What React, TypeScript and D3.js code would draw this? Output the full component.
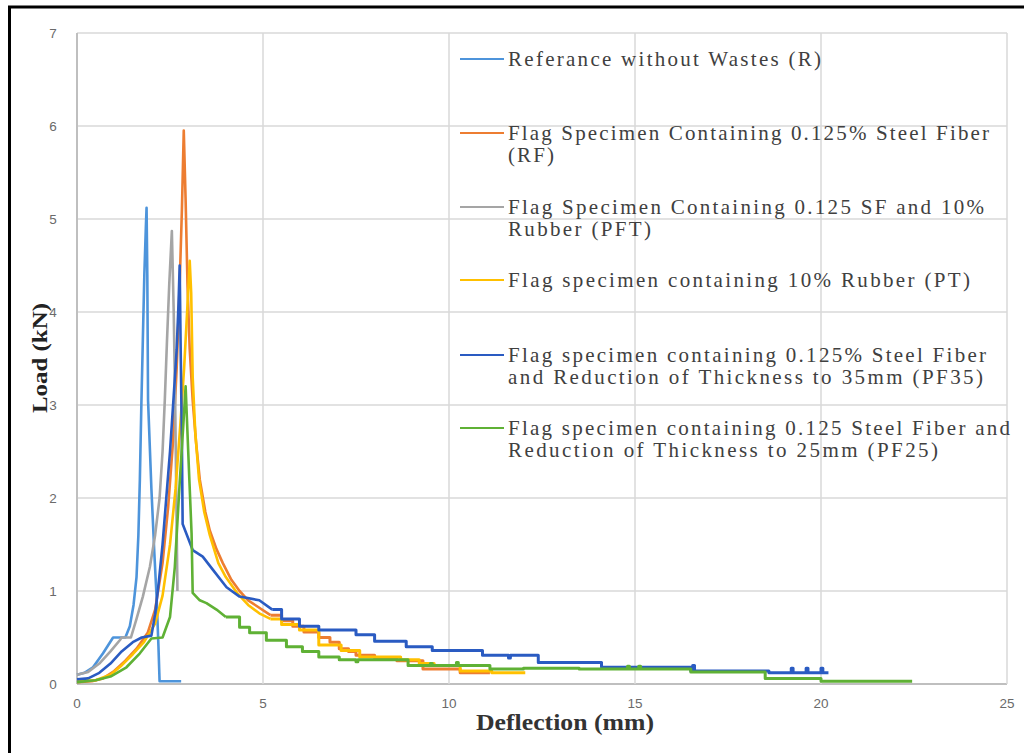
import * as d3 from "d3";

type Pt = [number, number];

const xTicks = [0, 5, 10, 15, 20, 25];
const yTicks = [0, 1, 2, 3, 4, 5, 6, 7];

// Referance without Wastes (R)
const rRise: Pt[] = [
  [0, 0.1], [0.2, 0.12], [0.43, 0.18], [0.7, 0.33], [0.97, 0.5], [1.3, 0.5],
  [1.42, 0.62], [1.52, 0.85], [1.6, 1.15], [1.65, 1.6], [1.69, 2.2], [1.73, 3.0],
  [1.77, 3.7], [1.81, 4.4], [1.85, 4.9], [1.87, 5.12], [1.89, 4.4], [1.91, 3.05],
  [2.0, 2.1], [2.08, 1.4], [2.14, 0.93], [2.19, 0.4], [2.22, 0.03], [2.8, 0.03],
];
const rTail: Pt[] = [];

// Flag Specimen Containing 0.125% Steel Fiber (RF)
const rfRise: Pt[] = [
  [0, 0.02], [0.4, 0.03], [0.7, 0.06], [1.0, 0.14], [1.3, 0.25], [1.6, 0.38],
  [1.9, 0.55], [2.1, 0.8], [2.3, 1.3], [2.45, 1.9], [2.58, 2.6], [2.68, 3.4],
  [2.76, 4.3], [2.82, 5.1], [2.87, 5.95], [2.92, 5.2], [2.97, 4.3], [3.03, 3.6],
  [3.11, 3.05], [3.2, 2.6], [3.3, 2.2], [3.45, 1.85], [3.57, 1.65], [3.75, 1.45],
  [3.92, 1.3], [4.15, 1.12], [4.37, 1.0], [4.6, 0.9], [4.9, 0.82], [5.2, 0.74],
];
const rfTail: Pt[] = [
  [5.2, 0.74], [5.5, 0.68], [5.8, 0.62], [6.1, 0.56], [6.5, 0.5], [6.8, 0.45],
  [7.05, 0.38], [7.3, 0.35], [7.5, 0.31], [8.0, 0.28], [8.6, 0.25], [9.3, 0.16],
  [10.3, 0.12], [11.1, 0.12],
];

// Flag Specimen Containing 0.125 SF and 10% Rubber (PFT)
const pftRise: Pt[] = [
  [0, 0.1], [0.3, 0.13], [0.6, 0.22], [0.9, 0.35], [1.15, 0.47], [1.2, 0.5],
  [1.45, 0.5], [1.6, 0.7], [1.77, 0.94], [1.96, 1.26], [2.1, 1.6], [2.22, 2.0],
  [2.3, 2.5], [2.36, 3.05], [2.42, 3.7], [2.48, 4.3], [2.55, 4.87], [2.6, 4.0],
  [2.64, 3.0], [2.67, 2.0], [2.7, 1.0],
];
const pftTail: Pt[] = [];

// Flag specimen containing 10% Rubber (PT)
const ptRise: Pt[] = [
  [0, 0.03], [0.5, 0.04], [0.9, 0.1], [1.2, 0.2], [1.5, 0.32], [1.8, 0.45],
  [2.1, 0.65], [2.3, 0.95], [2.5, 1.5], [2.65, 2.1], [2.78, 2.8], [2.88, 3.4],
  [2.96, 4.0], [3.03, 4.55], [3.07, 4.2], [3.11, 3.3], [3.18, 2.7], [3.28, 2.2],
  [3.42, 1.85], [3.57, 1.6], [3.8, 1.3], [4.0, 1.15], [4.3, 0.98], [4.6, 0.85],
  [4.9, 0.76], [5.2, 0.7],
];
const ptTail: Pt[] = [
  [5.2, 0.7], [5.5, 0.64], [5.98, 0.58], [6.5, 0.42], [7.1, 0.36], [7.6, 0.29],
  [8.7, 0.26], [9.2, 0.22], [9.6, 0.2], [10.3, 0.14], [11.15, 0.12], [12.05, 0.12],
];

// Flag specimen containing 0.125% Steel Fiber and Reduction of Thickness to 35mm (PF35)
const pf35Rise: Pt[] = [
  [0, 0.05], [0.3, 0.06], [0.6, 0.12], [0.9, 0.22], [1.2, 0.35], [1.5, 0.45],
  [1.74, 0.5], [2.0, 0.52], [2.1, 0.75], [2.2, 1.1], [2.3, 1.5], [2.4, 2.0],
  [2.5, 2.5], [2.6, 3.1], [2.68, 3.6], [2.73, 4.1], [2.76, 4.5], [2.79, 3.5],
  [2.82, 2.6], [2.84, 1.72], [3.11, 1.44], [3.38, 1.37], [3.65, 1.23],
  [4.02, 1.04], [4.37, 0.94], [4.9, 0.9], [5.25, 0.8],
];
const pf35Tail: Pt[] = [
  [5.25, 0.8], [5.5, 0.7], [5.98, 0.62], [6.5, 0.58], [7.5, 0.53], [8.0, 0.46],
  [8.85, 0.4], [9.55, 0.36], [10.9, 0.31], [11.6, 0.28], [11.65, 0.31],
  [12.4, 0.23], [14.1, 0.18], [16.5, 0.14], [16.55, 0.2], [16.6, 0.14],
  [18.6, 0.12], [19.2, 0.17], [19.25, 0.12], [19.6, 0.17], [19.65, 0.12],
  [20.0, 0.17], [20.05, 0.12], [20.2, 0.12],
];

// Flag specimen containing 0.125 Steel Fiber and Reduction of Thickness to 25mm (PF25)
const pf25Rise: Pt[] = [
  [0, 0.02], [0.5, 0.04], [0.9, 0.08], [1.33, 0.18], [1.69, 0.33], [2.0, 0.49],
  [2.3, 0.5], [2.5, 0.72], [2.63, 1.26], [2.76, 2.16], [2.86, 2.8], [2.92, 3.2],
  [2.95, 2.9], [3.02, 2.2], [3.08, 1.62], [3.11, 0.98], [3.3, 0.9], [3.48, 0.87],
  [3.75, 0.8], [4.0, 0.72],
];
const pf25Tail: Pt[] = [
  [4.0, 0.72], [4.37, 0.61], [4.64, 0.55], [5.09, 0.47], [5.63, 0.4],
  [6.06, 0.35], [6.5, 0.29], [7.05, 0.26], [7.5, 0.24], [7.55, 0.26],
  [8.9, 0.2], [9.5, 0.22], [9.55, 0.2], [10.2, 0.23], [10.25, 0.2],
  [11.1, 0.16], [12.0, 0.17], [13.5, 0.16], [14.8, 0.19], [14.85, 0.16],
  [15.1, 0.19], [15.15, 0.16], [16.5, 0.13], [18.5, 0.06], [20.0, 0.03],
  [22.45, 0.03],
];

const legendLines: string[][] = [
  ["Referance without Wastes (R)"],
  ["Flag Specimen Containing 0.125% Steel Fiber", "(RF)"],
  ["Flag Specimen Containing 0.125 SF and 10%", "Rubber (PFT)"],
  ["Flag specimen containing 10% Rubber (PT)"],
  ["Flag specimen containing 0.125% Steel Fiber", "and Reduction of Thickness to 35mm (PF35)"],
  ["Flag specimen containing 0.125 Steel Fiber and", "Reduction of Thickness to 25mm (PF25)"],
];

const colors = ["#4d94db", "#ed7d31", "#a5a5a5", "#ffc000", "#2a5bc2", "#5fb135"];

const series = [
  { rise: rRise, tail: rTail },
  { rise: rfRise, tail: rfTail },
  { rise: pftRise, tail: pftTail },
  { rise: ptRise, tail: ptTail },
  { rise: pf35Rise, tail: pf35Tail },
  { rise: pf25Rise, tail: pf25Tail },
];

// layout
const W = 1024, H = 753;
const left = 77, right = 1007, top = 33, bottom = 684;
const legendY = [59, 133, 207, 280, 355, 428];
const legendWidths = [
  [313],
  [481, 46],
  [476, 143],
  [462],
  [478, 475],
  [502, 430],
];

export default function App() {
  const x = d3.scaleLinear().domain([0, 25]).range([left, right]);
  const y = d3.scaleLinear().domain([0, 7]).range([bottom, top]);

  const lin = d3.line<Pt>().x(d => x(d[0])).y(d => y(d[1]));
  const step = d3.line<Pt>().x(d => x(d[0])).y(d => y(d[1])).curve(d3.curveStepAfter);

  return (
    <div style={{ position: "absolute", left: 0, top: 0 }}>
      <svg width={W} height={H} style={{ display: "block", background: "#fff" }}>
        {/* frame */}
        <line x1={8} x2={W} y1={7} y2={7} stroke="#000" strokeWidth={3} />
        <line x1={9.5} x2={9.5} y1={6} y2={H} stroke="#000" strokeWidth={3} />

        {/* grid */}
        {yTicks.map(t => (
          <line key={"gy" + t} x1={left} x2={right} y1={y(t)} y2={y(t)}
            stroke={t === 0 ? "#bfbfbf" : "#d9d9d9"} strokeWidth={t === 0 ? 2 : 1.5} />
        ))}
        {xTicks.map(t => (
          <line key={"gx" + t} x1={x(t)} x2={x(t)} y1={top} y2={bottom}
            stroke={t === 0 ? "#bfbfbf" : "#d9d9d9"} strokeWidth={t === 0 ? 2 : 1.5} />
        ))}

        {/* tick labels */}
        {yTicks.map(t => (
          <text key={"ty" + t} x={53} y={y(t) + 5} textAnchor="middle"
            fontFamily="Liberation Sans, Arial, sans-serif" fontSize={13.5} fill="#6a6a6a">{t}</text>
        ))}
        {xTicks.map(t => (
          <text key={"tx" + t} x={x(t)} y={708} textAnchor="middle"
            fontFamily="Liberation Sans, Arial, sans-serif" fontSize={13.5} fill="#6a6a6a">{t}</text>
        ))}

        {/* axis titles */}
        <text transform={`translate(47, 358) rotate(-90)`} textAnchor="middle"
          fontFamily="Liberation Serif, Times New Roman, serif" fontWeight="bold" fontSize={22}
          fill="#222" textLength={110} lengthAdjust="spacingAndGlyphs">Load (kN)</text>
        <text x={565} y={730} textAnchor="middle"
          fontFamily="Liberation Serif, Times New Roman, serif" fontWeight="bold" fontSize={23}
          fill="#333" textLength={178} lengthAdjust="spacingAndGlyphs">Deflection (mm)</text>

        {/* series */}
        {series.map((s, i) => (
          <g key={"s" + i} fill="none" stroke={colors[i]} strokeWidth={2.6} strokeLinejoin="round">
            <path d={lin(s.rise) || ""} />
            {s.tail.length > 0 && <path d={step(s.tail) || ""} strokeWidth={3} />}
          </g>
        ))}

        {/* legend */}
        {legendLines.map((lines, i) => (
          <g key={"lg" + i}>
            <line x1={460} x2={504} y1={legendY[i]} y2={legendY[i]} stroke={colors[i]} strokeWidth={2} />
            {lines.map((ln, j) => (
              <text key={j} x={508} y={legendY[i] + 6.5 + j * 22}
                fontFamily="Liberation Serif, Times New Roman, serif" fontSize={21} fill="#404040"
                textLength={legendWidths[i][j]} lengthAdjust="spacing">{ln}</text>
            ))}
          </g>
        ))}
      </svg>
    </div>
  );
}
